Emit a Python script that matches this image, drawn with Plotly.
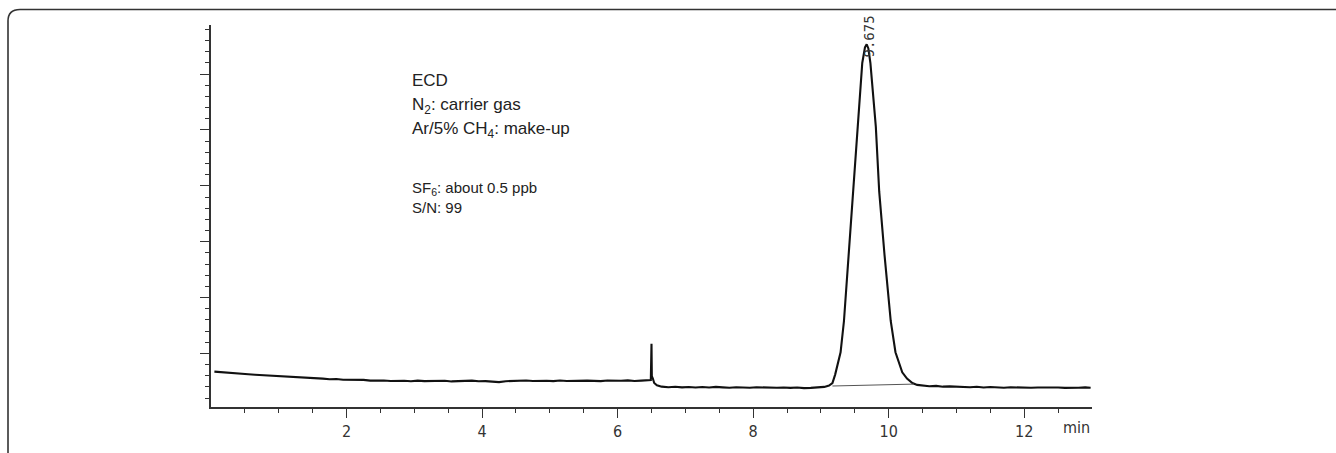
import plotly.graph_objects as go

# ---------------- data ----------------
time_min = [
    0.05, 0.15, 0.25, 0.35, 0.45, 0.55, 0.65, 0.75, 0.85, 0.95,
    1.05, 1.15, 1.25, 1.35, 1.45, 1.55, 1.65, 1.75, 1.85, 1.95,
    2.05, 2.15, 2.25, 2.35, 2.45, 2.55, 2.65, 2.75, 2.85, 2.95,
    3.05, 3.15, 3.25, 3.35, 3.45, 3.55, 3.65, 3.75, 3.85, 3.95,
    4.05, 4.15, 4.25, 4.35, 4.45, 4.55, 4.65, 4.75, 4.85, 4.95,
    5.05, 5.15, 5.25, 5.35, 5.45, 5.55, 5.65, 5.75, 5.85, 5.95,
    6.05, 6.15, 6.25, 6.35, 6.45,
    6.49, 6.50, 6.505, 6.52, 6.54, 6.58, 6.65,
    6.75, 6.85, 6.95, 7.05, 7.15, 7.25, 7.35, 7.45, 7.55, 7.65,
    7.75, 7.85, 7.95, 8.05, 8.15, 8.25, 8.35, 8.45, 8.55, 8.65,
    8.75, 8.85, 8.95, 9.05, 9.12,
    9.17, 9.21, 9.25, 9.29, 9.34, 9.41, 9.48, 9.54, 9.61, 9.65,
    9.675, 9.70, 9.73, 9.81, 9.86, 9.94, 10.03, 10.10, 10.15, 10.20,
    10.27, 10.35, 10.42, 10.50,
    10.6, 10.7, 10.8, 10.9, 11.0, 11.1, 11.2, 11.3, 11.4, 11.5,
    11.6, 11.7, 11.8, 11.9, 12.0, 12.1, 12.2, 12.3, 12.4, 12.5,
    12.6, 12.7, 12.8, 12.9, 12.98,
]
signal = [
    3.37, 3.31, 3.26, 3.22, 3.17, 3.13, 3.09, 3.06, 3.00, 2.99,
    2.93, 2.89, 2.88, 2.82, 2.80, 2.76, 2.74, 2.69, 2.70, 2.64,
    2.65, 2.60, 2.63, 2.56, 2.59, 2.57, 2.53, 2.56, 2.55, 2.50,
    2.56, 2.52, 2.54, 2.50, 2.55, 2.49, 2.53, 2.52, 2.56, 2.50,
    2.52, 2.47, 2.43, 2.51, 2.54, 2.52, 2.57, 2.53, 2.56, 2.55,
    2.52, 2.57, 2.53, 2.55, 2.51, 2.56, 2.54, 2.52, 2.57, 2.53,
    2.55, 2.58, 2.53, 2.56, 2.59,
    2.62, 5.87, 2.95, 2.75, 2.35, 2.15, 2.02,
    1.97, 2.01, 1.96, 1.99, 1.94, 1.99, 1.95, 2.00, 1.96, 1.93,
    1.97, 1.95, 1.92, 1.97, 1.94, 1.96, 1.92, 1.95, 1.91, 1.94,
    1.89, 1.91, 1.93, 2.00, 2.12,
    2.35, 3.10, 4.00, 5.10, 7.90, 13.7, 19.5, 25.3, 31.0, 32.4,
    32.67, 32.3, 31.0, 25.3, 19.5, 13.7, 7.90, 5.10, 4.10, 3.30,
    2.75, 2.35, 2.18, 2.12,
    2.06, 2.09, 2.02, 2.05, 2.01, 2.03, 1.97, 2.01, 1.95, 1.99,
    1.96, 1.93, 1.97, 1.94, 1.96, 1.92, 1.95, 1.97, 1.93, 1.95,
    1.91, 1.95, 1.93, 1.96, 1.93,
]

# integration baseline drawn under the peak
base_t = [9.17, 10.37]
base_v = [2.08, 2.25]

peak_rt = 9.675
peak_label = "9.675"
peak_label_y = 33.4

x_major_ticks = [2, 4, 6, 8, 10, 12]
x_major_labels = ["2", "4", "6", "8", "10", "12"]
x_minor_ticks = [0.5, 1, 1.5, 2.5, 3, 3.5, 4.5, 5, 5.5, 6.5, 7, 7.5,
                 8.5, 9, 9.5, 10.5, 11, 11.5, 12.5]
y_major_ticks = [5, 10, 15, 20, 25, 30]
y_minor_ticks = [v for v in range(1, 35) if v % 5 != 0]

x_range = [0, 13]
y_range = [0.2, 34.4]

info_lines_1 = ["ECD", "N<sub>2</sub>: carrier gas", "Ar/5% CH<sub>4</sub>: make-up"]
info_lines_2 = ["SF<sub>6</sub>: about 0.5 ppb", "S/N: 99"]

# ---------------- figure ----------------
W, H = 1336, 453
L, R, T, B = 211, 244, 25, 34
pw, ph = W - L - R, H - T - B


def px(xp):
    return (xp - L) / pw


def py(yp):
    return (H - B - yp) / ph


fig = go.Figure()
fig.add_trace(go.Scatter(x=time_min, y=signal, mode="lines",
                         line=dict(color="#111111", width=2.1),
                         hoverinfo="skip", showlegend=False))
fig.add_trace(go.Scatter(x=base_t, y=base_v, mode="lines",
                         line=dict(color="#555555", width=1),
                         hoverinfo="skip", showlegend=False))

tick_font = dict(family="Liberation Sans Narrow, DejaVu Sans Condensed, Arial Narrow, sans-serif",
                 size=16, color="#333333")
ann_font_1 = dict(family="Liberation Sans, Arial, sans-serif", size=17, color="#222222")
ann_font_2 = dict(family="Liberation Sans, Arial, sans-serif", size=15, color="#222222")

annotations = []
y1 = [29.41, 27.12, 25.03]
for txt, yv in zip(info_lines_1, y1):
    annotations.append(dict(x=2.94, y=yv, xref="x", yref="y", text=txt,
                            showarrow=False, xanchor="left", yanchor="middle",
                            font=ann_font_1))
y2 = [19.72, 18.05]
for txt, yv in zip(info_lines_2, y2):
    annotations.append(dict(x=2.94, y=yv, xref="x", yref="y", text=txt,
                            showarrow=False, xanchor="left", yanchor="middle",
                            font=ann_font_2))
annotations.append(dict(x=peak_rt + 0.04, y=peak_label_y, xref="x", yref="y",
                        text=peak_label, textangle=-90, showarrow=False,
                        xanchor="center", yanchor="middle",
                        font=dict(family="DejaVu Sans Mono, monospace", size=14,
                                  color="#333333")))
annotations.append(dict(x=13, y=-0.054, xref="x", yref="paper", text="min",
                        showarrow=False, xanchor="right", yanchor="middle",
                        font=tick_font))

# rounded frame: left edge and top edge (continues past right and bottom)
frame_path = (f"M {px(8)},{py(470)} "
              f"L {px(8)},{py(21)} Q {px(8)},{py(9)} {px(20)},{py(9)} "
              f"L {px(1345)},{py(9)}")

fig.update_layout(
    width=W, height=H,
    margin=dict(l=L, r=R, t=T, b=B),
    paper_bgcolor="white", plot_bgcolor="white",
    showlegend=False,
    annotations=annotations,
    shapes=[dict(type="path", path=frame_path, xref="paper", yref="paper",
                 line=dict(color="#333333", width=1.6), layer="above")],
    xaxis=dict(range=x_range, tickmode="array", tickvals=x_major_ticks,
               ticktext=x_major_labels, ticks="outside", ticklen=9,
               tickwidth=1.2, tickcolor="#333333", tickfont=tick_font,
               showline=True, linecolor="#333333", linewidth=1.5,
               showgrid=False, zeroline=False,
               minor=dict(tickmode="array", tickvals=x_minor_ticks,
                          ticks="outside", ticklen=4, tickwidth=1,
                          tickcolor="#333333", showgrid=False)),
    yaxis=dict(range=y_range, tickmode="array", tickvals=y_major_ticks,
               showticklabels=False, ticks="outside", ticklen=9,
               tickwidth=1.2, tickcolor="#333333",
               showline=True, linecolor="#333333", linewidth=1.5,
               showgrid=False, zeroline=False,
               minor=dict(tickmode="array", tickvals=y_minor_ticks,
                          ticks="outside", ticklen=4, tickwidth=1,
                          tickcolor="#333333", showgrid=False)),
)

fig.write_html("out.html",
               config={"displayModeBar": False},
               post_script="document.body.style.margin='0';"
                           "document.body.style.overflow='hidden';")
